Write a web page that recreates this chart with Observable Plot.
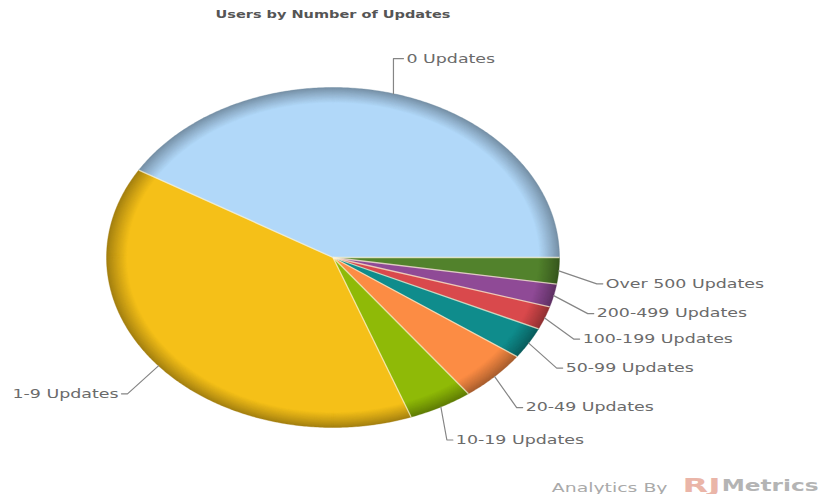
<!DOCTYPE html>
<html>
<head>
<meta charset="utf-8">
<script src="https://cdn.jsdelivr.net/npm/d3@7"></script>
<script src="https://cdn.jsdelivr.net/npm/@observablehq/plot@0.6"></script>
<style>html,body{margin:0;padding:0;background:#fff}svg{display:block}</style>
</head>
<body>
<div id="chart"></div>
<script>
const categories = ["Over 500 Updates","200-499 Updates","100-199 Updates","50-99 Updates","20-49 Updates","10-19 Updates","1-9 Updates","0 Updates"];
const shares = [2.5,2.2,2.2,3.0,4.9,4.6,39.2,41.4];
const colors = ["#52822c","#8f4a96","#d9494c","#0f8c8c","#fc8c44","#8fba07","#f5c018","#b1d8f9"];
const titleText = "Users by Number of Updates";

// layout only
const W = 819, H = 494;
const xRange = [106,559], yRange = [87,427];
const pxX = (xRange[1]-xRange[0])/2, pxY = (yRange[1]-yRange[0])/2;
const elbow = [[38,13],[34,18],[29,21],[28,25],[22,31],[6,33],[-31,28],[0,-35]];
const reach = [9,9,9,9,9,9,9,13];
const gap = 3, rimLevels = 20, rimDepth = 0.09, stretch = 1.45;

const arcs = d3.pie().sort(null).startAngle(0).endAngle(2*Math.PI)(shares);
const slices = arcs.map((a,i)=>({label:categories[i],color:colors[i],a0:a.startAngle,a1:a.endAngle,mid:(a.startAngle+a.endAngle)/2}));

const polys = [];
d3.range(rimLevels).forEach(lv=>{
  const f = lv/(rimLevels-1), r = 1-rimDepth*f;
  slices.forEach(s=>{
    const dark = d3.rgb(s.color).darker(1.15);
    const color = d3.rgb(d3.interpolateRgb(dark,s.color)(Math.pow(f,0.9))).formatHex();
    const key = s.label+"|"+lv;
    polys.push({key,color,x:0,y:0});
    const n = Math.max(2,Math.ceil((s.a1-s.a0)/0.01));
    d3.range(n+1).forEach(k=>{
      const t = s.a0+(s.a1-s.a0)*k/n;
      polys.push({key,color,x:r*Math.cos(t),y:r*Math.sin(t)});
    });
  });
});

const seps = slices.map(s=>({x2:Math.cos(s.a0),y2:Math.sin(s.a0)}));
const leaders = [], labels = [];
slices.forEach((s,i)=>{
  const ex = Math.cos(s.mid), ey = Math.sin(s.mid);
  const bx = ex+elbow[i][0]/pxX, by = ey+elbow[i][1]/pxY;
  const side = Math.cos(s.mid)>=0 ? 1 : -1;
  leaders.push({k:i,x:ex,y:ey},{k:i,x:bx,y:by},{k:i,x:bx+side*(reach[i]-gap)/pxX,y:by});
  labels.push({label:s.label,x:bx+side*reach[i]/pxX,y:by,anchor:side>0?"start":"end"});
});
const mkLabels = anchor => Plot.text(labels.filter(d=>d.anchor===anchor),{
  x:"x",y:"y",text:"label",textAnchor:anchor,fontSize:12,fontFamily:"DejaVu Sans",fill:"#6b6b6b"
});

const chart = Plot.plot({
  width:W,height:H,margin:0,
  x:{domain:[-1,1],range:xRange,axis:null},
  y:{domain:[-1,1],range:yRange,axis:null},
  marks:[
    Plot.line(polys,{x:"x",y:"y",z:"key",fill:"color",stroke:"color",strokeWidth:0.4,curve:"linear"}),
    Plot.link(seps,{x1:()=>0,y1:()=>0,x2:"x2",y2:"y2",stroke:"#fbf3d6",strokeWidth:1.3,strokeOpacity:0.75}),
    Plot.line(leaders,{x:"x",y:"y",z:"k",stroke:"#858585",strokeWidth:1.2}),
    mkLabels("start"),
    mkLabels("end"),
    Plot.text([titleText],{x:()=>0,frameAnchor:"top",dy:10,fontSize:10,fontWeight:"bold",fontFamily:"DejaVu Sans",fill:"#555",text:d=>d}),
    Plot.text(["Analytics By"],{frameAnchor:"bottom-right",dx:-152,dy:-3,textAnchor:"end",fontSize:13,fontFamily:"DejaVu Sans",fill:"#aaa",text:d=>d}),
    Plot.text(["RJ"],{frameAnchor:"bottom-right",dx:-99,dy:-3,textAnchor:"end",fontSize:19,fontWeight:"bold",fontFamily:"DejaVu Sans",fill:"#eab5a8",text:d=>d}),
    Plot.text(["Metrics"],{frameAnchor:"bottom-right",dx:-1,dy:-4,textAnchor:"end",fontSize:16,fontWeight:"bold",fontFamily:"DejaVu Sans",fill:"#b4b4b4",text:d=>d})
  ]
});
document.getElementById("chart").append(chart);
// the reference is horizontally stretched: widen the glyphs to match
chart.querySelectorAll("text").forEach(t=>{
  const len = t.getComputedTextLength();
  t.setAttribute("lengthAdjust","spacingAndGlyphs");
  t.setAttribute("textLength",len*(t.textContent==="RJ"?1.75:stretch));
});
</script>
</body>
</html>
